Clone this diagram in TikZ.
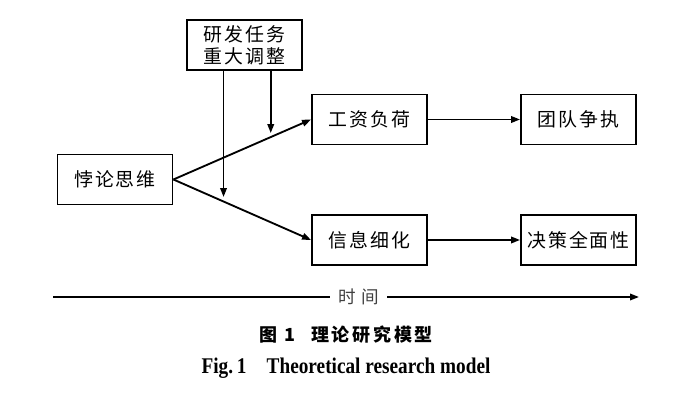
\documentclass[tikz,border=0pt]{standalone}
\usepackage{fontspec}
\setmainfont{Liberation Serif}
\newfontfamily\cjk[LetterSpace=10]{Noto Sans CJK SC}
\newfontfamily\cjktime[LetterSpace=35]{Noto Sans CJK SC}
\newfontfamily\cjkcap[LetterSpace=15]{Noto Sans CJK SC}
\newfontfamily\figfont[FakeStretch=0.86]{Liberation Serif}
\usepackage{tikz}
\usetikzlibrary{arrows.meta,positioning,calc}

\begin{document}
\begin{tikzpicture}[
    box/.style={draw, line width=2.1pt, minimum width=4.6cm, minimum height=2cm,
        inner sep=0pt, align=center, font=\cjk\fontsize{21.5}{25}\selectfont},
    arr/.style={line width=2.1pt, -{Triangle[length=0.36cm,width=0.26cm]}},
    plain/.style={line width=2.1pt}
]
        \useasboundingbox (0,0) rectangle (28,15.8);
        % boxes
        \node[box] (para) at (4.6,8.62) {悖论思维};
        \node[box] (mod) at (9.78,14.0) {研发任务\\重大调整};
        \node[box] (wage) at (14.78,11.02) {工资负荷};
        \node[box] (team) at (23.14,11.02) {团队争执};
        \node[box] (info) at (14.78,6.2) {信息细化};
        \node[box] (dec) at (23.14,6.2) {决策全面性};
        % main paths
        \draw[arr] (para.east) -- (wage.west);
        \draw[arr] (para.east) -- (info.west);
        \draw[arr] (wage) -- (team);
        \draw[arr] (info) -- (dec);
        % moderator
        \coordinate (hitup) at ($(para.east)!0.707!(wage.west)+(0,0.16)$);
        \coordinate (hitlow) at ($(para.east)!0.364!(info.west)+(0,0.18)$);
        \draw[arr] (mod.south -| hitup) -- (hitup);
        \draw[arr] (mod.south -| hitlow) -- (hitlow);
        % time axis
        \node[inner xsep=0.3cm, text=black!75, font=\cjktime\fontsize{20}{20}\selectfont] (time) at (14.35,3.92) {时间};
        \coordinate (tstart) at (2.12,3.92);
        \coordinate (tend) at (25.56,3.92);
        \draw[plain] (tstart) -- (time);
        \draw[arr] (time) -- (tend);
        % captions
        \node[font=\cjkcap\bfseries\fontsize{20.5}{20.5}\selectfont] (capcn) at (13.84,2.4) {图 1\hspace{0.9em}理论研究模型};
        \node[font=\figfont\bfseries\fontsize{25.5}{25.5}\selectfont] (capen) at (13.84,1.08) {Fig.\,1\hspace{0.9em}Theoretical research model};
\end{tikzpicture}
\end{document}
